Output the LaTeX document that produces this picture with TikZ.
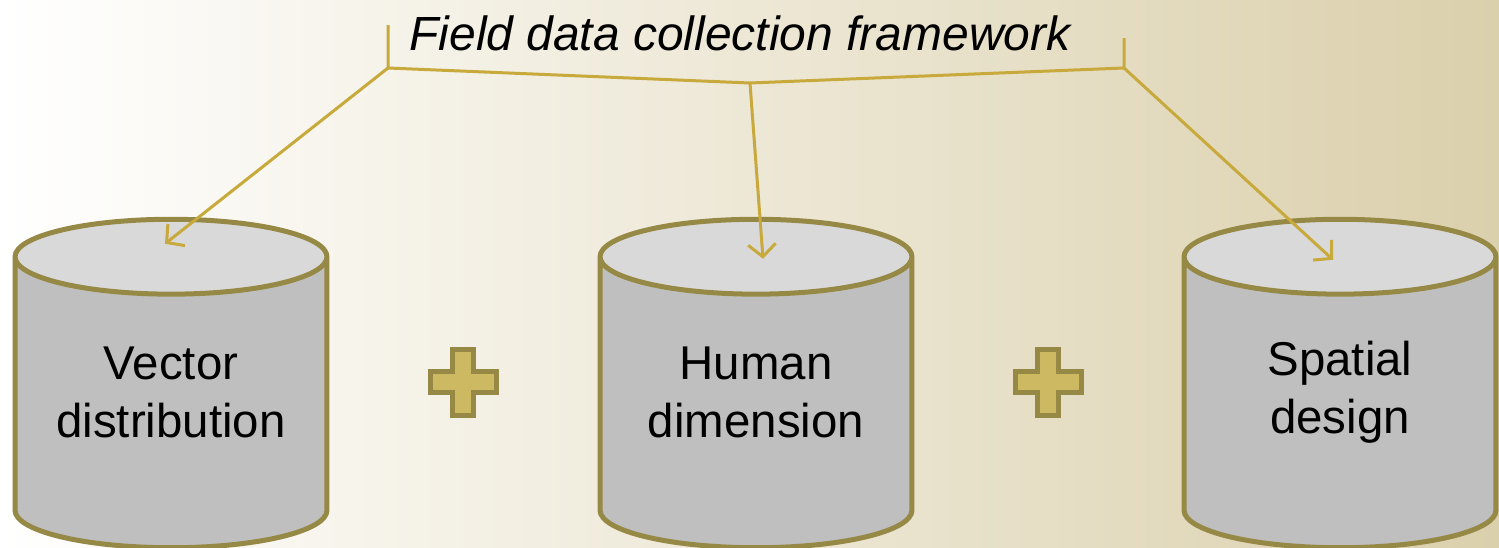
\documentclass[tikz,border=0pt]{standalone}
\usepackage{fontspec}
\setmainfont{Liberation Sans}
\usetikzlibrary{shapes.geometric, arrows.meta, positioning}
\definecolor{gold}{RGB}{200,169,60}
\definecolor{olive}{RGB}{150,136,69}
\definecolor{bodygray}{RGB}{191,191,191}
\definecolor{topgray}{RGB}{217,217,217}
\definecolor{tan}{RGB}{219,208,172}
\definecolor{plusfill}{RGB}{205,185,98}
\tikzset{
    store/.style={cylinder, shape border rotate=90, draw=olive, line width=0.1cm, aspect=0.24, inner sep=0pt, text width=6.24cm, cylinder uses custom fill, cylinder body fill=bodygray, cylinder end fill=topgray, minimum height=6.57cm, anchor=shape center},
    storetext/.style={align=center, font=\fontsize{27}{33}\selectfont},
    link/.style={draw=gold, line width=0.06cm},
    arrow/.style={link, -{Straight Barb[length=0.25cm, width=0.55cm]}},
    plus/.pic={\draw[draw=olive, fill=plusfill, line width=0.1cm] (-10.5,-33) -- (10.5,-33) -- (10.5,-10.5) -- (33,-10.5) -- (33,10.5) -- (10.5,10.5) -- (10.5,33) -- (-10.5,33) -- (-10.5,10.5) -- (-33,10.5) -- (-33,-10.5) -- (-10.5,-10.5) -- cycle;}
}

\begin{document}
\begin{tikzpicture}[x=0.02cm, y=-0.02cm]
    \useasboundingbox (0,0) rectangle (1499,548);
    \fill[left color=white, right color=tan] (0,0) rectangle (1499,548);

    \node[store] (vector) at (171,383.5) {};
    \node[store] (human) at (756,383.5) {};
    \node[store] (spatial) at (1340,383.5) {};

    \node[storetext] (vectortext) at (171,392) {Vector\\distribution};
    \node[storetext] (humantext) at (756,392) {Human\\dimension};
    \node[storetext] (spatialtext) at (1340,392) {Spatial\\design};

    \pic at (463,382) {plus};
    \pic at (1048,382) {plus};

    \node[font=\fontsize{27.3}{33}\selectfont\itshape] (title) at (740,33) {Field data collection framework};

    \coordinate (ltop) at (388,25);
    \coordinate (left) at (388,68);
    \coordinate (mid) at (750,83);
    \coordinate (right) at (1124,68);
    \coordinate (rtop) at (1124,38);

    \draw[link] (ltop) -- (left) -- (mid) -- (right) -- (rtop);
    \draw[arrow] (left) -- ([shift={(-6,27)}]vector.north);
    \draw[arrow] (mid) -- ([shift={(7,42)}]human.north);
    \draw[arrow] (right) -- ([shift={(-7,43)}]spatial.north);
\end{tikzpicture}
\end{document}
